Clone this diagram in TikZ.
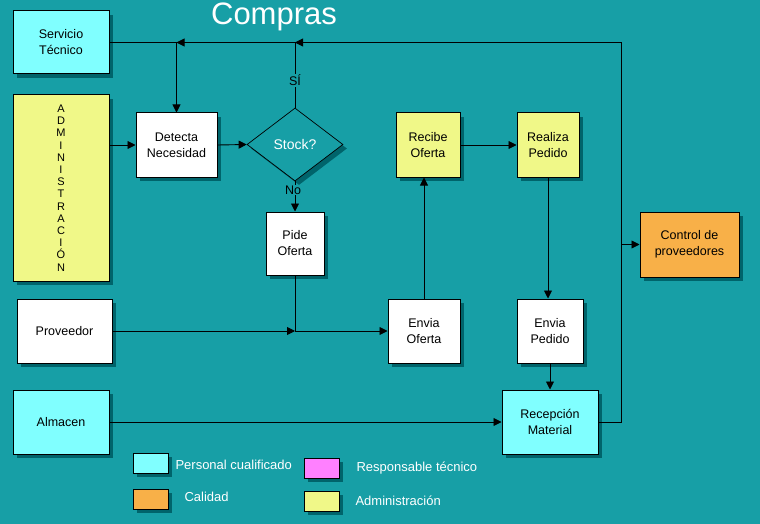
\documentclass[tikz,border=0pt]{standalone}
\usepackage{fontspec}
\setmainfont{Liberation Sans}
\usetikzlibrary{shapes.geometric,shadows,arrows.meta,calc}
\definecolor{fondo}{HTML}{179FA6}
\definecolor{sombra}{HTML}{00646B}
\definecolor{cian}{HTML}{80FFFF}
\definecolor{amarillo}{HTML}{F0F888}
\definecolor{naranja}{HTML}{F8B048}
\definecolor{rosa}{HTML}{FF80FF}
\tikzset{
  caja/.style={draw, line width=1pt, align=center, inner sep=2pt,
    font=\fontsize{12.5}{16}\selectfont,
    drop shadow={shadow xshift=4pt, shadow yshift=-4pt, fill=sombra, opacity=1}},
  flujo/.style={-{Triangle[length=8pt,width=8pt]}, line width=0.9pt},
  linea/.style={line width=0.9pt},
  leyenda/.style={text=white, font=\fontsize{13}{15}\selectfont, anchor=west},
}

\begin{document}
\begin{tikzpicture}[x=1pt, y=-1pt]

\fill[fondo] (0,0) rectangle (760,524);
\useasboundingbox (0,0) rectangle (760,524);

\node[text=white, font=\fontsize{31}{36}\selectfont] (titulo) at (274,17) {Compras};

% cajas
\node[caja, fill=cian, minimum width=96pt, minimum height=63pt] (serv) at (61,42.5) {Servicio\\Técnico};
\node[caja, fill=amarillo, minimum width=96pt, minimum height=186pt,
      font=\fontsize{11}{12.2}\selectfont] (admin) at (61,188)
      {A\\D\\M\\I\\N\\I\\S\\T\\R\\A\\C\\I\\Ó\\N};
\node[caja, fill=white, minimum width=81pt, minimum height=64pt] (detecta) at (176.5,145) {Detecta\\Necesidad};
\node[caja, diamond, fill=fondo, line width=0.7pt, minimum width=96pt, minimum height=73pt,
      inner sep=0pt, text=white, font=\fontsize{14}{16}\selectfont] (stock) at (295,144.5) {Stock?};
\node[caja, fill=white, minimum width=58pt, minimum height=63pt] (pide) at (295,243.5) {Pide\\Oferta};
\node[caja, fill=white, minimum width=95pt, minimum height=64pt] (prov) at (64.5,331) {Proveedor};
\node[caja, fill=white, minimum width=72pt, minimum height=64pt] (envof) at (424,331) {Envia\\Oferta};
\node[caja, fill=amarillo, minimum width=64pt, minimum height=64pt] (recibe) at (428,145) {Recibe\\Oferta};
\node[caja, fill=amarillo, minimum width=62pt, minimum height=64pt] (realiza) at (548,145) {Realiza\\Pedido};
\node[caja, fill=white, minimum width=66pt, minimum height=64pt] (envped) at (550,331) {Envia\\Pedido};
\node[caja, fill=cian, minimum width=96pt, minimum height=64pt] (recep) at (550,422) {Recepción\\Material};
\node[caja, fill=cian, minimum width=96pt, minimum height=64pt] (almacen) at (61,422) {Almacen};
\node[caja, fill=naranja, minimum width=99pt, minimum height=65pt] (control) at (689.5,244.5) {Control de\\proveedores};

% puntos de union
\coordinate (jdet) at (detecta.north |- serv.east);
\coordinate (jsi) at (stock.north |- serv.east);
\coordinate (jcr) at ($(recep.east)+(23,0)$);
\coordinate (jcr2) at (jcr |- serv.east);
\coordinate (jctl) at (jcr |- control.west);
\coordinate (jpide) at (pide.south |- prov.east);

% conectores
\draw[linea] (recep.east) -- (jcr) -- (jcr2);
\draw[flujo] (jcr2) -- (jsi);
\draw[flujo] (jsi) -- (jdet);
\draw[linea] (serv.east) -- (jdet);
\draw[flujo] (jdet) -- (detecta.north);
\draw[flujo] (jctl) -- (control.west);
\draw[linea] (stock.north) -- node[pos=0.42, fill=fondo, inner sep=1pt, font=\fontsize{12.5}{14}\selectfont] (si) {SÍ} (jsi);
\draw[flujo] (admin.east |- detecta.west) -- (detecta.west);
\draw[flujo] (detecta.east) -- (stock.west);
\draw[flujo] (stock.south) -- (pide.north);
\node[fill=fondo, inner sep=0.5pt, font=\fontsize{12.5}{14}\selectfont] (no) at (293,190) {No};
\draw[flujo] (prov.east) -- (jpide);
\draw[linea] (pide.south) -- (jpide);
\draw[flujo] (jpide) -- (envof.west);
\draw[flujo] (envof.north) -- (envof.north |- recibe.south);
\draw[flujo] (recibe.east) -- (realiza.west);
\draw[flujo] (realiza.south) -- (realiza.south |- envped.north);
\draw[flujo] (envped.south) -- (envped.south |- recep.north);
\draw[flujo] (almacen.east) -- (recep.west);

% leyenda
\node[caja, fill=cian, minimum width=35pt, minimum height=20pt] (lcian) at (150.5,463) {};
\node[caja, fill=naranja, minimum width=35pt, minimum height=20pt] (lnaranja) at (150.5,499) {};
\node[caja, fill=rosa, minimum width=35pt, minimum height=20pt] (lrosa) at (321.5,468) {};
\node[caja, fill=amarillo, minimum width=35pt, minimum height=20pt] (lamarillo) at (321.5,501) {};
\node[leyenda] (tcian) at (172,465) {Personal cualificado};
\node[leyenda] (tnaranja) at (181,497) {Calidad};
\node[leyenda] (trosa) at (353,468) {Responsable técnico};
\node[leyenda] (tamarillo) at (352,501) {Administración};

\end{tikzpicture}
\end{document}
